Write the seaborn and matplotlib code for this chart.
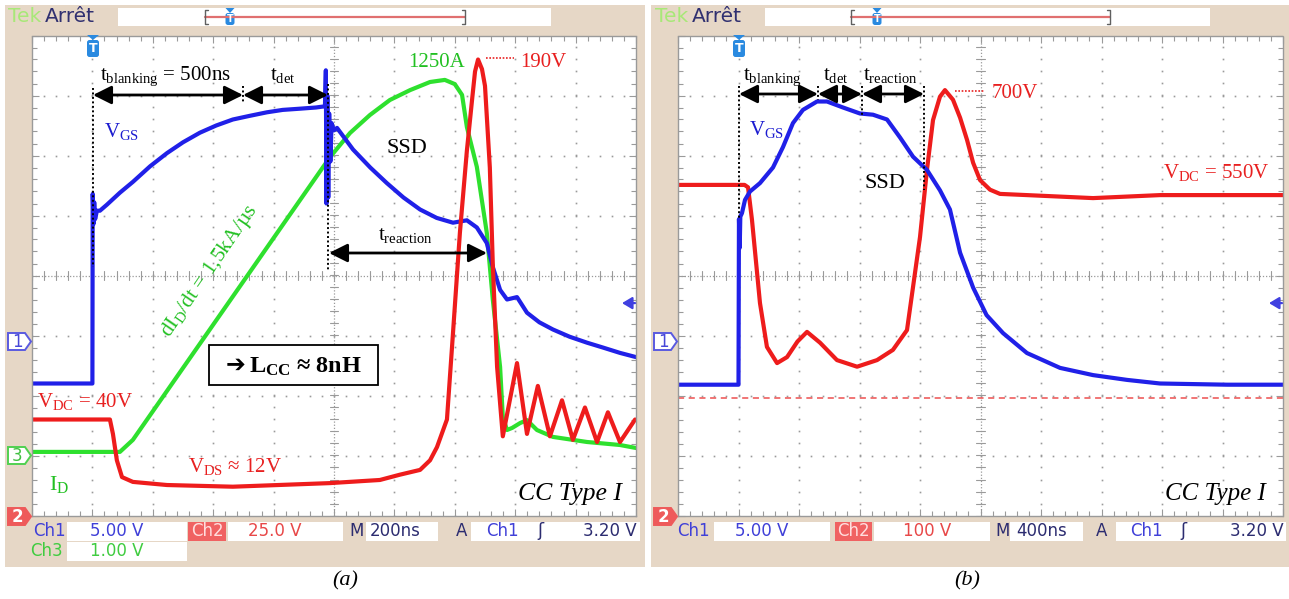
import numpy as np
import pandas as pd
import matplotlib
matplotlib.use("Agg")
import matplotlib.pyplot as plt
from matplotlib.patches import Rectangle, Polygon, FancyBboxPatch
from matplotlib.ticker import MultipleLocator
import seaborn as sns

# ---------------- data ----------------
# Panel (a): 200 ns/div, trigger at 0 ns; Ch1 V_GS 5 V/div, Ch2 V_DS 25 V/div, Ch3 I_D 200 A/div
a_vgs_t = [-200, 0, 1, 4, 6, 9, 15, 25, 48, 91, 134, 191, 247, 300, 356, 410, 465, 520, 578, 630, 687,
           740, 770, 773, 775, 778, 781, 784, 788, 792, 800, 810, 863, 920, 975, 1030, 1085, 1140, 1194,
           1240, 1273, 1306, 1326, 1350, 1373, 1406, 1439, 1480, 1525, 1580, 1638, 1690, 1747, 1800]
a_vgs = [-3.5, -3.5, 12.3, 9.8, 11.6, 10.2, 10.9, 10.9, 11.4, 12.4, 13.3, 14.6, 15.7, 16.6, 17.4, 18.0,
         18.5, 18.8, 19.1, 19.3, 19.4, 19.5, 19.6, 22.6, 11.5, 20.5, 12.0, 19.0, 15.0, 18.2, 17.6, 17.8,
         16.0, 14.5, 13.2, 12.0, 11.0, 10.3, 9.9, 10.1, 9.5, 8.2, 6.2, 4.3, 3.5, 3.7, 2.4, 1.6, 1.0, 0.4,
         -0.1, -0.5, -0.95, -1.3]
a_id_t = [-200, 91, 134, 787, 853, 919, 985, 1052, 1118, 1167, 1200, 1224, 1240, 1273, 1306, 1326, 1350,
          1359, 1373, 1390, 1416, 1439, 1472, 1525, 1638, 1747, 1800]
a_id = [12, 12, 52, 995, 1075, 1135, 1185, 1218, 1245, 1252, 1238, 1202, 1095, 962, 742, 518, 295,
        128, 85, 92, 108, 118, 85, 62, 45, 35, 25]
a_vds_t = [-200, 58, 68, 81, 98, 134, 247, 465, 787, 952, 1018, 1085, 1118, 1141, 1174, 1194, 1217, 1240,
           1257, 1267, 1277, 1290, 1300, 1316, 1326, 1340, 1359, 1406, 1439, 1475, 1515, 1555, 1591, 1631,
           1671, 1707, 1747, 1797]
a_vds = [40, 40, 34, 23, 16, 14, 12.7, 12, 13.5, 14.8, 17, 19, 23, 28.5, 40, 76, 118, 152, 173, 185, 190,
         186, 179, 145, 104, 62, 33, 63.5, 34, 54, 33, 48, 31.5, 45, 30.6, 43, 30.6, 40]

# Panel (b): 400 ns/div; Ch1 V_GS 5 V/div, Ch2 V_DS 100 V/div
b_vgs_t = [-400, 0, 3, 8, 12, 23, 43, 76, 142, 228, 294, 360, 426, 519, 585, 691, 803, 889, 982, 1068,
           1154, 1246, 1332, 1398, 1465, 1551, 1640, 1749, 1907, 2126, 2344, 2569, 2787, 3230, 3600]
b_vgs = [-3.6, -3.6, 10.2, 7.8, 10.4, 10.7, 11.8, 12.5, 13.2, 14.5, 16.2, 18.2, 19.3, 20.0, 20.0, 19.5,
         19.0, 18.9, 18.5, 17.0, 15.4, 14.3, 12.6, 11.0, 7.4, 4.5, 2.2, 0.7, -0.96, -2.2, -2.8, -3.2,
         -3.5, -3.6, -3.6]
b_vds_t = [-400, 40, 63, 89, 142, 188, 255, 321, 390, 453, 539, 651, 784, 916, 1021, 1114, 1154, 1200,
           1246, 1286, 1332, 1365, 1418, 1465, 1511, 1551, 1597, 1663, 1729, 1907, 2344, 2787, 3600]
b_vds = [551, 551, 547, 493, 354, 281, 254, 264, 290, 306, 288, 259, 248, 259, 276, 309, 381, 464,
         576, 659, 698, 709, 693, 663, 626, 588, 559, 543, 536, 534, 529, 534, 534]
b_ref_level = 196          # red dashed reference (V, Ch2)
trig_level = 3.20          # Ch1 trigger level (V)

# scope settings: time/div, vertical scale/div, ground offset (div)
set_a = dict(tdiv=200, ch1=(5, -1.1), ch2=(25, -4.0), ch3=(200, -3.0))
set_b = dict(tdiv=400, ch1=(5, -1.1), ch2=(100, -4.0))

# ---------------- style ----------------
sns.set_theme(style="white")
plt.rcParams['font.family'] = ['Liberation Serif', 'DejaVu Sans']
plt.rcParams['mathtext.fontset'] = 'custom'
plt.rcParams['mathtext.rm'] = 'Liberation Serif'
plt.rcParams['mathtext.it'] = 'Liberation Serif:italic'
plt.rcParams['mathtext.bf'] = 'Liberation Serif:bold'

BLUE, RED, GREEN = '#2020e8', '#ee1c1c', '#2ee02e'
TBLUE, TRED, TGREEN = '#1c1cd0', '#e82020', '#22c022'
SBLUE, SDARK, SRED, SGREEN = '#4040d8', '#2c2c70', '#e84848', '#40cc40'
BEIGE = '#e6d7c6'
GCOL = '#9a9a9a'

W, H = 1289, 599
fig = plt.figure(figsize=(W / 100, H / 100), dpi=100)
fig.patch.set_facecolor('white')

bg = fig.add_axes([0, 0, 1, 1]); bg.set_xlim(0, W); bg.set_ylim(H, 0); bg.axis('off'); bg.set_zorder(0)
ov = fig.add_axes([0, 0, 1, 1]); ov.set_xlim(0, W); ov.set_ylim(H, 0); ov.axis('off'); ov.set_zorder(5)

GT, GB = 35.5, 515.5
PX = {'a': (32, 636), 'b': (678, 1283)}

# beige scope frames
bg.add_patch(Rectangle((5, 5), 640, 562, fc=BEIGE, ec='none'))
bg.add_patch(Rectangle((651, 5), 638, 562, fc=BEIGE, ec='none'))


def make_grid_ax(left, right):
    ax = fig.add_axes([left / W, 1 - GB / H, (right - left) / W, (GB - GT) / H])
    ax.set_zorder(2)
    ax.set_xlim(0, 10); ax.set_ylim(-4, 4)
    ax.set_facecolor('white')
    fx = np.arange(0, 10.001, 0.2)
    fy = np.arange(-4, 4.001, 0.2)
    for xv in range(1, 10):
        if xv != 5:
            ax.plot(np.full_like(fy, xv), fy, ls='none', marker='s', ms=1.2, mew=0, color=GCOL)
    for yv in range(-3, 4):
        if yv != 0:
            ax.plot(fx, np.full_like(fx, yv), ls='none', marker='s', ms=1.2, mew=0, color=GCOL)
    ax.axvline(5, color=GCOL, lw=0.9, ls=(0, (1, 1.5)))
    ax.axhline(0, color=GCOL, lw=0.9, ls=(0, (1, 1.5)))
    for yv in fy:
        ax.plot([4.93, 5.07], [yv, yv], color=GCOL, lw=0.8)
    for xv in fx:
        ax.plot([xv, xv], [-0.07, 0.07], color=GCOL, lw=0.8)
    for s in ax.spines.values():
        s.set_color(GCOL); s.set_linestyle((0, (1, 1))); s.set_linewidth(1.0)
    ax.xaxis.set_major_locator(MultipleLocator(1)); ax.xaxis.set_minor_locator(MultipleLocator(0.2))
    ax.yaxis.set_major_locator(MultipleLocator(1)); ax.yaxis.set_minor_locator(MultipleLocator(0.2))
    ax.tick_params(which='both', direction='in', color=GCOL, width=0.8, bottom=True, top=True,
                   left=True, right=True, labelbottom=False, labelleft=False)
    ax.tick_params(which='major', length=5)
    ax.tick_params(which='minor', length=3.5)
    ax.grid(False)
    return ax


def trace(ax, t, v, tdiv, scale, color, lw=3.0):
    vdiv, off = scale
    df = pd.DataFrame({'x': 1 + np.asarray(t, float) / tdiv,
                       'y': off + np.asarray(v, float) / vdiv})
    sns.lineplot(data=df, x='x', y='y', ax=ax, color=color, lw=lw, sort=False,
                 estimator=None, solid_joinstyle='round')
    ax.set_xlabel(''); ax.set_ylabel('')


axa = make_grid_ax(*PX['a'])
axb = make_grid_ax(*PX['b'])

trace(axa, a_id_t, a_id, set_a['tdiv'], set_a['ch3'], GREEN)
trace(axa, a_vgs_t, a_vgs, set_a['tdiv'], set_a['ch1'], BLUE)
trace(axa, a_vds_t, a_vds, set_a['tdiv'], set_a['ch2'], RED)
trace(axb, b_vds_t, b_vds, set_b['tdiv'], set_b['ch2'], RED)
trace(axb, b_vgs_t, b_vgs, set_b['tdiv'], set_b['ch1'], BLUE)
axb.axhline(set_b['ch2'][1] + b_ref_level / set_b['ch2'][0], color='#ee5050', lw=1.1, ls=(0, (4, 3)))
for _ax in (axa, axb):
    _ax.set_xlim(0, 10); _ax.set_ylim(-4, 4)


def ypx(div):
    return (GT + GB) / 2 - div * (GB - GT) / 8


# ---------------- scope chrome ----------------
def tmarker(x, ytop, h, w, fs):
    ov.add_patch(Polygon([(x - w / 2, ytop), (x + w / 2, ytop), (x, ytop + 5)], closed=True,
                         fc='#2a8ae0', ec='none'))
    ov.add_patch(FancyBboxPatch((x - w / 2, ytop + 5), w, h - 5,
                                boxstyle='round,pad=0,rounding_size=2.5', fc='#2a8ae0', ec='none'))
    ov.text(x, ytop + 5 + (h - 5) / 2, 'T', color='white', fontsize=fs, fontweight='bold',
            ha='center', va='center', family='DejaVu Sans')


def header(tek_x, box0, box1, br0, br1, tx):
    ov.text(tek_x, 16, 'Tek', color='#a8e878', fontsize=14.5, ha='left', va='center', family='DejaVu Sans')
    ov.text(tek_x + 37, 16, 'Arrêt', color='#303070', fontsize=14.5, ha='left', va='center',
            family='DejaVu Sans')
    ov.add_patch(Rectangle((box0, 8), box1 - box0, 18, fc='white', ec='none'))
    ov.plot([br0, br1], [17, 17], color='#e07070', lw=1.6)
    ov.plot([br0 + 3, br0, br0, br0 + 3], [10, 10, 24, 24], color='#606060', lw=1)
    ov.plot([br1 - 3, br1, br1, br1 - 3], [10, 10, 24, 24], color='#606060', lw=1)
    tmarker(tx, 8, 17, 9, 7)


def ch_marker(xr, yc, label, edge, fill, tcol):
    pts = [(xr - 23, yc - 8.5), (xr - 6, yc - 8.5), (xr, yc), (xr - 6, yc + 8.5), (xr - 23, yc + 8.5)]
    ov.add_patch(Polygon(pts, closed=True, fc=fill, ec=edge, lw=1.4))
    ov.text(xr - 14, yc + 0.5, label, color=tcol, fontsize=12, ha='center', va='center',
            family='DejaVu Sans', fontweight='bold' if fill != 'white' else 'normal')


def sbox(x0, x1, yc, fc='white'):
    ov.add_patch(Rectangle((x0, yc - 9.5), x1 - x0, 19, fc=fc, ec='none'))


def stext(x, yc, s, col, ha='left', fs=12):
    ov.text(x, yc, s, color=col, fontsize=fs, ha=ha, va='center', family='DejaVu Sans')


header(8, 118, 551, 205, 465, 230)
header(655, 765, 1210, 851, 1110, 877)

for key, st in (('a', set_a), ('b', set_b)):
    left, right = PX[key]
    ch_marker(left - 1, ypx(st['ch1'][1]), '1', '#5a5ae0', 'white', '#4848d8')
    ch_marker(left - 1, ypx(st['ch2'][1]) + 1, '2', '#ee5a5a', '#ee5a5a', 'white')
    if 'ch3' in st:
        ch_marker(left - 1, ypx(st['ch3'][1]), '3', '#50d050', 'white', '#40c040')
    ytr = ypx(st['ch1'][1] + trig_level / st['ch1'][0])
    ov.annotate('', xy=(right - 14, ytr), xytext=(right - 1, ytr),
                arrowprops=dict(arrowstyle='-|>,head_length=0.5,head_width=0.3', color='#4040e0',
                                lw=1.6, shrinkA=0, shrinkB=0, mutation_scale=12))

tmarker(93, 35, 22, 12, 9)
tmarker(739, 35, 22, 12, 9)

# status bars
Y1, Y2 = 531.5, 551.5
stext(33, Y1, 'Ch1', SBLUE)
sbox(67, 187, Y1); stext(90, Y1, '5.00 V', SBLUE)
sbox(188, 226, Y1, fc='#f06262'); stext(207, Y1, 'Ch2', '#ffdede', ha='center')
sbox(228, 343, Y1); stext(248, Y1, '25.0 V', SRED)
stext(349, Y1, 'M', SDARK)
sbox(366, 438, Y1); stext(370, Y1, '200ns', SDARK)
stext(456, Y1, 'A', SDARK)
sbox(471, 640, Y1); stext(486, Y1, 'Ch1', SBLUE); stext(537, Y1, 'ʃ', SDARK, fs=13)
stext(637, Y1, '3.20 V', SDARK, ha='right')
stext(30, Y2, 'Ch3', SGREEN)
sbox(67, 187, Y2); stext(90, Y2, '1.00 V', SGREEN)

stext(677, Y1, 'Ch1', SBLUE)
sbox(714, 830, Y1); stext(735, Y1, '5.00 V', SBLUE)
sbox(835, 872, Y1, fc='#f06262'); stext(853.5, Y1, 'Ch2', '#ffdede', ha='center')
sbox(874, 990, Y1); stext(903, Y1, '100 V', SRED)
stext(995, Y1, 'M', SDARK)
sbox(1010, 1083, Y1); stext(1016, Y1, '400ns', SDARK)
stext(1096, Y1, 'A', SDARK)
sbox(1116, 1286, Y1); stext(1130, Y1, 'Ch1', SBLUE); stext(1180, Y1, 'ʃ', SDARK, fs=13)
stext(1284, Y1, '3.20 V', SDARK, ha='right')

ov.text(345, 581, '(a)', fontsize=16, fontstyle='italic', ha='center', va='center', color='black')
ov.text(967, 581, '(b)', fontsize=16, fontstyle='italic', ha='center', va='center', color='black')

# ---------------- annotations ----------------
def dotted(x, y0, y1):
    ov.plot([x, x], [y0, y1], color='black', lw=1.4, ls=(0, (1, 1.3)))


def darrow(x0, x1, y):
    ov.annotate('', xy=(x1, y), xytext=(x0, y),
                arrowprops=dict(arrowstyle='<|-|>,head_length=0.7,head_width=0.35', color='black',
                                lw=2.0, shrinkA=0, shrinkB=0, mutation_scale=16))


def lab(x, y, s, col='black', fs=15, **kw):
    ov.text(x, y, s, color=col, fontsize=fs, ha=kw.pop('ha', 'left'), va=kw.pop('va', 'baseline'), **kw)


# panel (a)
dotted(93, 88, 267); dotted(243, 86, 102); dotted(328, 84, 270)
darrow(93, 243, 95); darrow(243, 328, 95); darrow(329, 487, 253)
lab(100, 80, r't$_\mathrm{blanking}$ = 500ns')
lab(270, 80, r't$_\mathrm{det}$')
lab(408, 67, '1250A', TGREEN)
ov.plot([486, 514], [58, 58], color=TRED, lw=1.2, ls=(0, (1, 1)))
lab(520, 67, '190V', TRED)
lab(104, 137, r'V$_\mathrm{GS}$', TBLUE)
lab(386, 153, 'SSD', fs=16)
lab(378, 240, r't$_\mathrm{reaction}$')
lab(37, 407, r'V$_\mathrm{DC}$ = 40V', TRED)
lab(188, 472, r'V$_\mathrm{DS}$ ≈ 12V', TRED)
lab(49, 490, r'I$_\mathrm{D}$', TGREEN, fs=16)
lab(518, 500, 'CC Type I', fs=18.5, fontstyle='italic')
ov.text(210, 271, r'dI$_\mathrm{D}$/dt = 1,5kA/µs', color=TGREEN, fontsize=15.5, rotation=55.5,
        rotation_mode='anchor', ha='center', va='center')
ov.add_patch(Rectangle((209, 345), 169, 40, fc='white', ec='black', lw=1.3))
ov.text(226, 365, '➔', color='black', fontsize=17, fontweight='bold', ha='left', va='center',
        family='DejaVu Sans')
ov.text(249, 373, r'L$_\mathbf{CC}$ ≈ 8nH', color='black', fontsize=17.5, fontweight='bold',
        ha='left', va='baseline')

# panel (b)
dotted(739, 86, 218); dotted(818, 86, 100); dotted(862, 86, 117); dotted(924, 86, 190)
darrow(739, 818, 94); darrow(818, 862, 94); darrow(862, 924, 94)
lab(743, 80, r't$_\mathrm{blanking}$')
lab(823, 80, r't$_\mathrm{det}$')
lab(863, 80, r't$_\mathrm{reaction}$')
ov.plot([955, 985], [91, 91], color=TRED, lw=1.2, ls=(0, (1, 1)))
lab(992, 98, '700V', TRED)
lab(749, 135, r'V$_\mathrm{GS}$', TBLUE)
lab(865, 188, 'SSD', fs=16)
lab(1163, 178, r'V$_\mathrm{DC}$ = 550V', TRED)
lab(1165, 500, 'CC Type I', fs=18, fontstyle='italic')

fig.savefig('out.png', dpi=100, facecolor='white')
